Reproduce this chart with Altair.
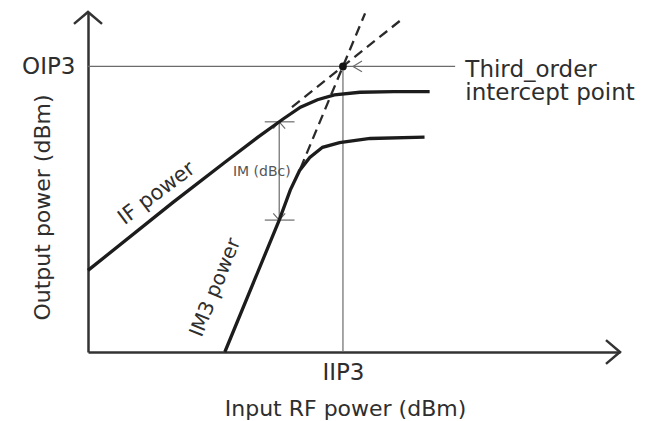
import altair as alt
import pandas as pd

# Fundamental (IF) output power versus input power, with gain compression
if_x = [-20, -10, -4, 0, 3, 5, 7, 9, 12, 16, 20.2]
if_y = [-10, 0, 5.8, 9.6, 12.3, 14.0, 15.1, 15.8, 16.2, 16.3, 16.3]

# Third-order intermodulation (IM3) output power
im3_x = [-3.9, 2.5, 3.8, 4.9, 6.1, 7.6, 9.6, 13.2, 19.6]
im3_y = [-22, -2.6, 1.8, 4.7, 6.6, 8.1, 8.8, 9.4, 9.6]

# Small-signal asymptotes (slope 1 and slope 3) extended past compression
if_ext_x = [4, 17]
if_ext_y = [14, 27]
im3_ext_x = [5, 12.6]
im3_ext_y = [5, 27.8]

# Intercept point
IIP3 = 10
OIP3 = 20

# IM (dBc) spacing measured at this input level
im_x = 2.5
im_top = 11.85
im_bottom = -2.6

X_DOMAIN = [-20, 42.6]
Y_DOMAIN = [-22, 28]

FONT = "DejaVu Sans"
INK = "#1c1c1c"
TEXT = "#2e2e2e"
GUIDE = "#6b6b6b"


def path(groups):
    rows = []
    for name, xs, ys in groups:
        for i, (a, b) in enumerate(zip(xs, ys)):
            rows.append({"x": a, "y": b, "g": name, "i": i})
    return pd.DataFrame(rows)


x_enc = alt.X(
    "x:Q",
    scale=alt.Scale(domain=X_DOMAIN, nice=False, zero=False),
    axis=alt.Axis(
        values=[IIP3], labelExpr="'IIP3'", ticks=False, grid=False,
        domainColor="#333333", domainWidth=2.5,
        labelFont=FONT, labelFontSize=23, labelColor=TEXT,
        labelBaseline="top", labelPadding=9, labelAlign="center",
        title="Input RF power (dBm)", titleFont=FONT, titleFontSize=22,
        titleFontWeight="normal", titleColor=TEXT,
        titleX=257, titleY=56, titleAlign="center", titleBaseline="middle",
    ),
)
y_enc = alt.Y(
    "y:Q",
    scale=alt.Scale(domain=Y_DOMAIN, nice=False, zero=False),
    axis=alt.Axis(
        values=[OIP3], labelExpr="'OIP3'", ticks=False, grid=False,
        domainColor="#333333", domainWidth=2.5,
        labelFont=FONT, labelFontSize=23, labelColor=TEXT,
        labelBaseline="middle", labelPadding=13, labelAlign="right",
        title="Output power (dBm)", titleFont=FONT, titleFontSize=22,
        titleFontWeight="normal", titleColor=TEXT,
        titleX=-46, titleY=195, titleAngle=270,
        titleAlign="center", titleBaseline="middle",
    ),
)


def lines(df, **mark):
    return alt.Chart(df).mark_line(**mark).encode(
        x=x_enc, y=y_enc, detail="g:N", order="i:Q"
    )


# thin guide lines: OIP3 pointer, IIP3 drop line, IM spacing marker
guides = path([
    ("oip3", [X_DOMAIN[0], 23.2], [OIP3, OIP3]),
    ("iip3", [IIP3, IIP3], [Y_DOMAIN[0], OIP3]),
    ("ptr", [12.24, 11.18, 12.24], [OIP3 + 0.8, OIP3, OIP3 - 0.8]),
    ("im", [im_x, im_x], [im_bottom, im_top]),
    ("im_t", [im_x - 1.7, im_x + 1.8], [im_top, im_top]),
    ("im_b", [im_x - 1.7, im_x + 1.8], [im_bottom, im_bottom]),
    ("im_ta", [im_x - 0.7, im_x, im_x + 0.7], [im_top - 1.0, im_top, im_top - 1.0]),
    ("im_ba", [im_x - 0.7, im_x, im_x + 0.7], [im_bottom + 1.0, im_bottom, im_bottom + 1.0]),
])

dashed = path([
    ("if_ext", if_ext_x, if_ext_y),
    ("im3_ext", im3_ext_x, im3_ext_y),
])

curves = path([
    ("IF power", if_x, if_y),
    ("IM3 power", im3_x, im3_y),
])

# arrowheads at the far ends of both axes
ax_w, ax_h = 1.65, 1.75
arrows = path([
    ("up", [X_DOMAIN[0] - ax_w, X_DOMAIN[0], X_DOMAIN[0] + ax_w],
     [Y_DOMAIN[1] - ax_h, Y_DOMAIN[1], Y_DOMAIN[1] - ax_h]),
    ("right", [X_DOMAIN[1] - ax_w, X_DOMAIN[1], X_DOMAIN[1] - ax_w],
     [Y_DOMAIN[0] + ax_h, Y_DOMAIN[0], Y_DOMAIN[0] - ax_h]),
])

layer_guides = lines(guides, color=GUIDE, strokeWidth=1.2)
layer_dashed = lines(dashed, color="#2a2a2a", strokeWidth=2.3, strokeDash=[10, 6])
layer_curves = lines(curves, color=INK, strokeWidth=3.3)
layer_arrows = lines(arrows, color="#333333", strokeWidth=2.5)

layer_point = alt.Chart(pd.DataFrame({"x": [IIP3], "y": [OIP3]})).mark_circle(
    size=60, color="#111111", opacity=1
).encode(x=x_enc, y=y_enc)


def label(x, y, text, **mark):
    df = pd.DataFrame({"x": [x], "y": [y], "t": [text]})
    return alt.Chart(df).mark_text(font=FONT, **mark).encode(
        x=x_enc, y=y_enc, text="t:N"
    )


layer_text = alt.layer(
    label(-11.9, 1.3, "IF power", angle=323, fontSize=21, color=TEXT),
    label(-5.0, -12.5, "IM3 power", angle=292, fontSize=20, color=TEXT),
    label(0.45, 4.4, "IM (dBc)", fontSize=14, color="#555555"),
    label(24.4, 18.5, "Third_order", fontSize=23, color=TEXT,
          align="left", baseline="alphabetic"),
    label(24.4, 15.0, "intercept point", fontSize=23, color=TEXT,
          align="left", baseline="alphabetic"),
)

chart = alt.layer(
    layer_guides, layer_dashed, layer_curves, layer_arrows, layer_point, layer_text
).properties(
    width=532,
    height=340,
    padding={"left": 88, "top": 12, "right": 27, "bottom": 69},
    autosize=alt.AutoSizeParams(type="none"),
    background="white",
).configure_view(stroke=None)

chart.save("out.html", embed_options={"renderer": "svg", "actions": False})
